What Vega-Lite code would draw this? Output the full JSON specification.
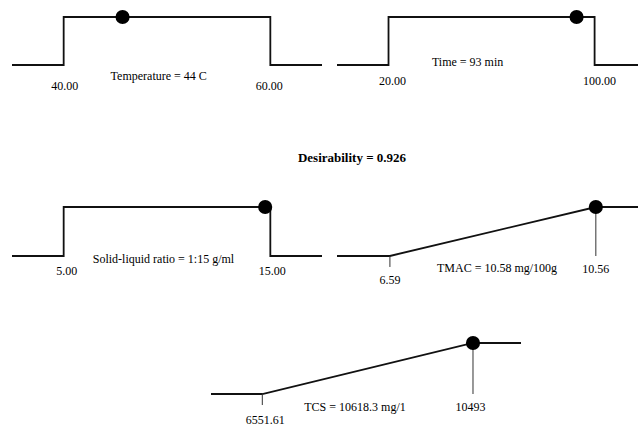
{
  "$schema": "https://vega.github.io/schema/vega-lite/v6.json",
  "padding": {"left": 8, "top": 9, "right": 0, "bottom": 0},
  "background": "white",
  "datasets": {
    "curves": [
      {"panel": "Temperature", "i": 1, "x": 35, "d": 0},
      {"panel": "Temperature", "i": 2, "x": 40, "d": 0},
      {"panel": "Temperature", "i": 3, "x": 40, "d": 1},
      {"panel": "Temperature", "i": 4, "x": 60, "d": 1},
      {"panel": "Temperature", "i": 5, "x": 60, "d": 0},
      {"panel": "Temperature", "i": 6, "x": 65, "d": 0},
      {"panel": "Time", "i": 1, "x": 0, "d": 0},
      {"panel": "Time", "i": 2, "x": 20, "d": 0},
      {"panel": "Time", "i": 3, "x": 20, "d": 1},
      {"panel": "Time", "i": 4, "x": 100, "d": 1},
      {"panel": "Time", "i": 5, "x": 100, "d": 0},
      {"panel": "Time", "i": 6, "x": 118.4, "d": 0},
      {"panel": "Solid", "i": 1, "x": 2.5, "d": 0},
      {"panel": "Solid", "i": 2, "x": 5, "d": 0},
      {"panel": "Solid", "i": 3, "x": 5, "d": 1},
      {"panel": "Solid", "i": 4, "x": 15, "d": 1},
      {"panel": "Solid", "i": 5, "x": 15, "d": 0},
      {"panel": "Solid", "i": 6, "x": 17.5, "d": 0},
      {"panel": "TMAC", "i": 1, "x": 5.57, "d": 0},
      {"panel": "TMAC", "i": 2, "x": 6.59, "d": 0},
      {"panel": "TMAC", "i": 3, "x": 10.56, "d": 1},
      {"panel": "TMAC", "i": 4, "x": 11.45, "d": 1},
      {"panel": "TCS", "i": 1, "x": 5592, "d": 0},
      {"panel": "TCS", "i": 2, "x": 6551.61, "d": 0},
      {"panel": "TCS", "i": 3, "x": 10493, "d": 1},
      {"panel": "TCS", "i": 4, "x": 11391, "d": 1}
    ],
    "info": [
      {"panel": "Temperature", "low": 40, "high": 60, "opt": 45.7, "lowText": "40.00", "highText": "60.00", "label": "Temperature = 44 C"},
      {"panel": "Time", "low": 20, "high": 100, "opt": 93, "lowText": "20.00", "highText": "100.00", "label": "Time = 93 min"},
      {"panel": "Solid", "low": 5, "high": 15, "opt": 14.75, "lowText": "5.00", "highText": "15.00", "label": "Solid-liquid ratio = 1:15 g/ml"},
      {"panel": "TMAC", "low": 6.59, "high": 10.56, "opt": 10.56, "lowText": "6.59", "highText": "10.56", "label": "TMAC = 10.58 mg/100g"},
      {"panel": "TCS", "low": 6551.61, "high": 10493, "opt": 10493, "lowText": "6551.61", "highText": "10493", "label": "TCS = 10618.3 mg/1"}
    ]
  },
  "spacing": 326,
  "bounds": "flush",
  "vconcat": [
    {
      "spacing": 190,
      "bounds": "flush",
      "vconcat": [
        {
          "spacing": 15,
          "bounds": "flush",
          "hconcat": [
            {
              "width": 310, "height": 48,
              "layer": [
                {"data": {"name": "curves"}, "transform": [{"filter": "datum.panel === 'Temperature'"}],
                 "mark": {"type": "line", "color": "#111", "strokeWidth": 1.8},
                 "encoding": {"x": {"field": "x", "type": "quantitative", "scale": {"domain": [35, 65], "nice": false, "zero": false}, "axis": null},
                              "y": {"field": "d", "type": "quantitative", "scale": {"domain": [0, 1], "nice": false, "zero": false}, "axis": null},
                              "order": {"field": "i"}}},
                {"data": {"name": "info"}, "transform": [{"filter": "datum.panel === 'Temperature'"}],
                 "mark": {"type": "point", "filled": true, "size": 200, "color": "#000", "opacity": 1},
                 "encoding": {"x": {"field": "opt", "type": "quantitative"}, "y": {"datum": 1}}},
                {"data": {"name": "info"}, "transform": [{"filter": "datum.panel === 'Temperature'"}],
                 "mark": {"type": "text", "dx": 1, "dy": 21},
                 "encoding": {"x": {"field": "low", "type": "quantitative"}, "y": {"datum": 0}, "text": {"field": "lowText"}}},
                {"data": {"name": "info"}, "transform": [{"filter": "datum.panel === 'Temperature'"}],
                 "mark": {"type": "text", "dx": -1, "dy": 21},
                 "encoding": {"x": {"field": "high", "type": "quantitative"}, "y": {"datum": 0}, "text": {"field": "highText"}}},
                {"data": {"name": "info"}, "transform": [{"filter": "datum.panel === 'Temperature'"}],
                 "mark": {"type": "text", "dy": 11},
                 "encoding": {"x": {"datum": 49.2}, "y": {"datum": 0}, "text": {"field": "label"}}}
              ]
            },
            {
              "width": 305, "height": 48,
              "layer": [
                {"data": {"name": "curves"}, "transform": [{"filter": "datum.panel === 'Time'"}],
                 "mark": {"type": "line", "color": "#111", "strokeWidth": 1.8},
                 "encoding": {"x": {"field": "x", "type": "quantitative", "scale": {"domain": [0, 118.4], "nice": false, "zero": false}, "axis": null},
                              "y": {"field": "d", "type": "quantitative", "scale": {"domain": [0, 1], "nice": false, "zero": false}, "axis": null},
                              "order": {"field": "i"}}},
                {"data": {"name": "info"}, "transform": [{"filter": "datum.panel === 'Time'"}],
                 "mark": {"type": "point", "filled": true, "size": 200, "color": "#000", "opacity": 1},
                 "encoding": {"x": {"field": "opt", "type": "quantitative"}, "y": {"datum": 1}}},
                {"data": {"name": "info"}, "transform": [{"filter": "datum.panel === 'Time'"}],
                 "mark": {"type": "text", "dx": 4, "dy": 16},
                 "encoding": {"x": {"field": "low", "type": "quantitative"}, "y": {"datum": 0}, "text": {"field": "lowText"}}},
                {"data": {"name": "info"}, "transform": [{"filter": "datum.panel === 'Time'"}],
                 "mark": {"type": "text", "dx": 5, "dy": 16},
                 "encoding": {"x": {"field": "high", "type": "quantitative"}, "y": {"datum": 0}, "text": {"field": "highText"}}},
                {"data": {"name": "info"}, "transform": [{"filter": "datum.panel === 'Time'"}],
                 "mark": {"type": "text", "dy": -3},
                 "encoding": {"x": {"datum": 50.7}, "y": {"datum": 0}, "text": {"field": "label"}}}
              ]
            }
          ]
        },
        {
          "spacing": 15,
          "bounds": "flush",
          "title": {"text": "Desirability = 0.926", "font": "Liberation Serif", "fontSize": 13, "fontWeight": "bold", "anchor": "middle", "offset": 35, "dx": 25, "color": "#000"},
          "hconcat": [
            {
              "width": 310, "height": 49,
              "layer": [
                {"data": {"name": "curves"}, "transform": [{"filter": "datum.panel === 'Solid'"}],
                 "mark": {"type": "line", "color": "#111", "strokeWidth": 1.8},
                 "encoding": {"x": {"field": "x", "type": "quantitative", "scale": {"domain": [2.5, 17.5], "nice": false, "zero": false}, "axis": null},
                              "y": {"field": "d", "type": "quantitative", "scale": {"domain": [0, 1], "nice": false, "zero": false}, "axis": null},
                              "order": {"field": "i"}}},
                {"data": {"name": "info"}, "transform": [{"filter": "datum.panel === 'Solid'"}],
                 "mark": {"type": "point", "filled": true, "size": 200, "color": "#000", "opacity": 1},
                 "encoding": {"x": {"field": "opt", "type": "quantitative"}, "y": {"datum": 1}}},
                {"data": {"name": "info"}, "transform": [{"filter": "datum.panel === 'Solid'"}],
                 "mark": {"type": "text", "dx": 3, "dy": 15},
                 "encoding": {"x": {"field": "low", "type": "quantitative"}, "y": {"datum": 0}, "text": {"field": "lowText"}}},
                {"data": {"name": "info"}, "transform": [{"filter": "datum.panel === 'Solid'"}],
                 "mark": {"type": "text", "dx": 2, "dy": 15},
                 "encoding": {"x": {"field": "high", "type": "quantitative"}, "y": {"datum": 0}, "text": {"field": "highText"}}},
                {"data": {"name": "info"}, "transform": [{"filter": "datum.panel === 'Solid'"}],
                 "mark": {"type": "text", "dy": 3},
                 "encoding": {"x": {"datum": 9.83}, "y": {"datum": 0}, "text": {"field": "label"}}}
              ]
            },
            {
              "width": 305, "height": 49,
              "layer": [
                {"data": {"name": "curves"}, "transform": [{"filter": "datum.panel === 'TMAC'"}],
                 "mark": {"type": "line", "color": "#111", "strokeWidth": 1.8},
                 "encoding": {"x": {"field": "x", "type": "quantitative", "scale": {"domain": [5.57, 11.45], "nice": false, "zero": false}, "axis": null},
                              "y": {"field": "d", "type": "quantitative", "scale": {"domain": [0, 1], "nice": false, "zero": false}, "axis": null},
                              "order": {"field": "i"}}},
                {"data": {"name": "info"}, "transform": [{"filter": "datum.panel === 'TMAC'"}],
                 "mark": {"type": "rule", "color": "#333", "strokeWidth": 1},
                 "encoding": {"x": {"field": "low", "type": "quantitative"}, "y": {"datum": 0}, "y2": {"datum": -0.224}}},
                {"data": {"name": "info"}, "transform": [{"filter": "datum.panel === 'TMAC'"}],
                 "mark": {"type": "rule", "color": "#333", "strokeWidth": 1},
                 "encoding": {"x": {"field": "high", "type": "quantitative"}, "y": {"datum": 0}, "y2": {"datum": 1}}},
                {"data": {"name": "info"}, "transform": [{"filter": "datum.panel === 'TMAC'"}],
                 "mark": {"type": "point", "filled": true, "size": 200, "color": "#000", "opacity": 1},
                 "encoding": {"x": {"field": "opt", "type": "quantitative"}, "y": {"datum": 1}}},
                {"data": {"name": "info"}, "transform": [{"filter": "datum.panel === 'TMAC'"}],
                 "mark": {"type": "text", "dy": 24},
                 "encoding": {"x": {"field": "low", "type": "quantitative"}, "y": {"datum": 0}, "text": {"field": "lowText"}}},
                {"data": {"name": "info"}, "transform": [{"filter": "datum.panel === 'TMAC'"}],
                 "mark": {"type": "text", "dy": 13},
                 "encoding": {"x": {"field": "high", "type": "quantitative"}, "y": {"datum": 0}, "text": {"field": "highText"}}},
                {"data": {"name": "info"}, "transform": [{"filter": "datum.panel === 'TMAC'"}],
                 "mark": {"type": "text", "dy": 12},
                 "encoding": {"x": {"datum": 8.655}, "y": {"datum": 0}, "text": {"field": "label"}}}
              ]
            }
          ]
        }
      ]
    },
    {
      "width": 509, "height": 51,
      "layer": [
        {"data": {"name": "curves"}, "transform": [{"filter": "datum.panel === 'TCS'"}],
         "mark": {"type": "line", "color": "#111", "strokeWidth": 1.8},
         "encoding": {"x": {"field": "x", "type": "quantitative", "scale": {"domain": [1869.5, 11390.9], "nice": false, "zero": false}, "axis": null},
                      "y": {"field": "d", "type": "quantitative", "scale": {"domain": [0, 1], "nice": false, "zero": false}, "axis": null},
                      "order": {"field": "i"}}},
        {"data": {"name": "info"}, "transform": [{"filter": "datum.panel === 'TCS'"}],
         "mark": {"type": "rule", "color": "#333", "strokeWidth": 1},
         "encoding": {"x": {"field": "low", "type": "quantitative"}, "y": {"datum": 0}, "y2": {"datum": -0.216}}},
        {"data": {"name": "info"}, "transform": [{"filter": "datum.panel === 'TCS'"}],
         "mark": {"type": "rule", "color": "#333", "strokeWidth": 1},
         "encoding": {"x": {"field": "high", "type": "quantitative"}, "y": {"datum": 0}, "y2": {"datum": 1}}},
        {"data": {"name": "info"}, "transform": [{"filter": "datum.panel === 'TCS'"}],
         "mark": {"type": "point", "filled": true, "size": 200, "color": "#000", "opacity": 1},
         "encoding": {"x": {"field": "opt", "type": "quantitative"}, "y": {"datum": 1}}},
        {"data": {"name": "info"}, "transform": [{"filter": "datum.panel === 'TCS'"}],
         "mark": {"type": "text", "dx": 3, "dy": 26},
         "encoding": {"x": {"field": "low", "type": "quantitative"}, "y": {"datum": 0}, "text": {"field": "lowText"}}},
        {"data": {"name": "info"}, "transform": [{"filter": "datum.panel === 'TCS'"}],
         "mark": {"type": "text", "dx": -2.5, "dy": 13},
         "encoding": {"x": {"field": "high", "type": "quantitative"}, "y": {"datum": 0}, "text": {"field": "highText"}}},
        {"data": {"name": "info"}, "transform": [{"filter": "datum.panel === 'TCS'"}],
         "mark": {"type": "text", "dy": 13},
         "encoding": {"x": {"datum": 8285.7}, "y": {"datum": 0}, "text": {"field": "label"}}}
      ]
    }
  ],
  "config": {
    "view": {"stroke": null},
    "text": {"font": "Liberation Serif", "fontSize": 12, "color": "#000", "baseline": "middle", "align": "center"}
  }
}
